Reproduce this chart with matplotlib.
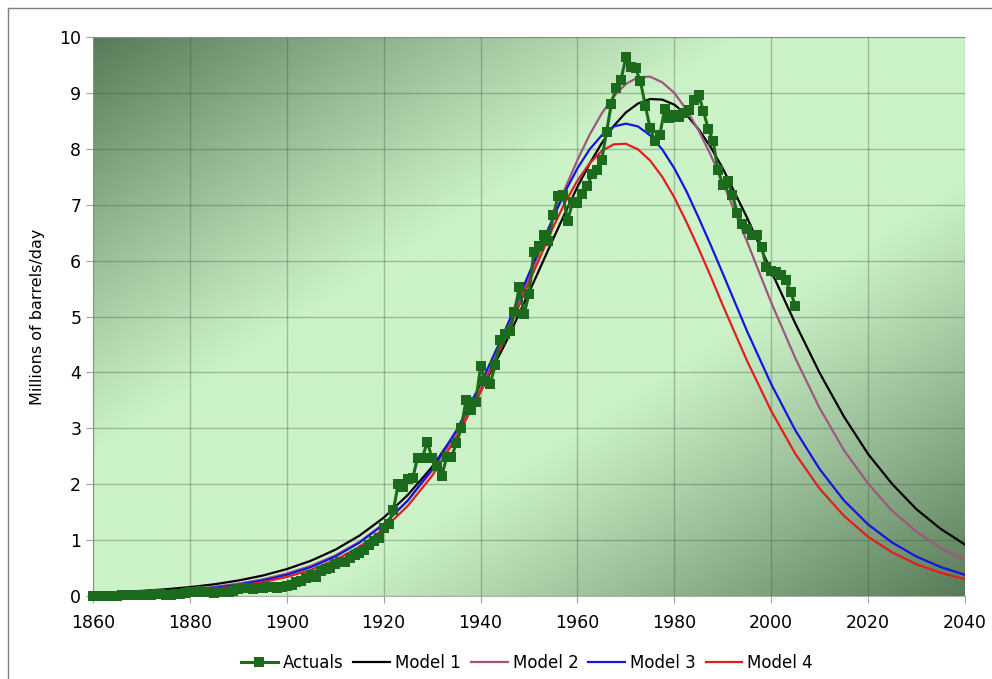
import numpy as np
import matplotlib
matplotlib.use("Agg")
from matplotlib import pyplot as plt
from matplotlib.lines import Line2D

# model years and values, millions of barrels/day (denser around the peak)
model_years = [1860, 1865, 1870, 1875, 1880, 1885, 1890, 1895, 1900, 1905,
               1910, 1915, 1920, 1925, 1930, 1935, 1940, 1945, 1950, 1955,
               1957.5, 1960, 1962.5, 1965, 1967.5, 1970, 1972.5, 1975, 1977.5,
               1980, 1982.5, 1985, 1987.5, 1990, 1995, 2000, 2005,
               2010, 2015, 2020, 2025, 2030, 2035, 2040]
model_1 = [0.052, 0.068, 0.091, 0.120, 0.159, 0.209, 0.277, 0.365, 0.481, 0.631,
           0.827, 1.08, 1.40, 1.81, 2.31, 2.93, 3.66, 4.50, 5.43, 6.39,
           6.86, 7.32, 7.73, 8.10, 8.41, 8.65, 8.81, 8.89, 8.88,
           8.79, 8.61, 8.35, 8.03, 7.65, 6.77, 5.81, 4.87,
           3.99, 3.21, 2.54, 2.00, 1.55, 1.20, 0.92]
model_2 = [0.036, 0.049, 0.066, 0.089, 0.121, 0.163, 0.221, 0.298, 0.402, 0.540,
           0.726, 0.968, 1.29, 1.71, 2.24, 2.90, 3.70, 4.64, 5.68, 6.77,
           7.30, 7.80, 8.25, 8.63, 8.94, 9.16, 9.28, 9.29, 9.19,
           9.00, 8.70, 8.33, 7.89, 7.40, 6.34, 5.25, 4.25,
           3.36, 2.61, 2.01, 1.52, 1.15, 0.86, 0.645]
model_3 = [0.030, 0.042, 0.057, 0.078, 0.108, 0.148, 0.203, 0.278, 0.379, 0.518,
           0.704, 0.954, 1.28, 1.71, 2.27, 2.96, 3.79, 4.74, 5.77, 6.77,
           7.24, 7.65, 7.99, 8.24, 8.40, 8.45, 8.40, 8.24, 7.99,
           7.65, 7.24, 6.77, 6.28, 5.77, 4.74, 3.79, 2.96,
           2.27, 1.71, 1.28, 0.954, 0.704, 0.518, 0.379]
model_4 = [0.025, 0.035, 0.048, 0.067, 0.093, 0.129, 0.178, 0.247, 0.341, 0.469,
           0.644, 0.881, 1.197, 1.615, 2.15, 2.83, 3.65, 4.60, 5.61, 6.60,
           7.05, 7.43, 7.74, 7.96, 8.08, 8.09, 7.99, 7.79, 7.50,
           7.13, 6.69, 6.22, 5.72, 5.20, 4.21, 3.31, 2.54,
           1.92, 1.435, 1.06, 0.778, 0.568, 0.413, 0.300]

# actual production 1860-2005, thousand barrels/day
actual_years = list(range(1860, 2006))
actuals_kbd = [
    1.4, 5.8, 8.4, 7.2, 5.8, 6.6, 9.8, 9.2, 9.9, 11.5,
    14.4, 14.4, 17.3, 27.1, 29.8, 24.8, 24.8, 36.8, 42.0, 54.6,
    71.8, 76.0, 83.3, 64.0, 66.4, 59.8, 76.5, 77.4, 75.9, 96.0,
    124.8, 148.9, 138.9, 132.3, 135.4, 145.8, 166.0, 165.5, 151.1, 155.0,
    174.3, 190.4, 243.1, 275.3, 320.4, 369.0, 346.9, 455.4, 489.6, 501.5,
    574.1, 603.1, 609.5, 680.6, 727.1, 768.8, 822.1, 917.4, 977.0, 1034.2,
    1210.6, 1294.3, 1530.0, 2003.0, 1950.0, 2091.0, 2112.0, 2473.0, 2474.0, 2760.0,
    2460.0, 2332.0, 2150.0, 2484.0, 2486.0, 2730.0, 3000.0, 3505.0, 3327.0, 3466.0,
    4107.0, 3842.0, 3798.0, 4125.0, 4584.0, 4695.0, 4749.0, 5088.0, 5520.0, 5046.0,
    5407.0, 6158.0, 6256.0, 6458.0, 6342.0, 6807.0, 7151.0, 7170.0, 6710.0, 7054.0,
    7035.0, 7183.0, 7332.0, 7542.0, 7614.0, 7804.0, 8295.0, 8810.0, 9096.0, 9238.0,
    9637.0, 9463.0, 9441.0, 9208.0, 8774.0, 8375.0, 8132.0, 8245.0, 8707.0, 8552.0,
    8597.0, 8572.0, 8649.0, 8688.0, 8879.0, 8971.0, 8680.0, 8349.0, 8140.0, 7613.0,
    7355.0, 7417.0, 7171.0, 6847.0, 6662.0, 6560.0, 6465.0, 6452.0, 6252.0, 5881.0,
    5822.0, 5801.0, 5744.0, 5649.0, 5441.0, 5184.0,
]
actuals = [v / 1000.0 for v in actuals_kbd]

x_ticks = list(range(1860, 2041, 20))
y_ticks = list(range(0, 11))

plt.rcParams['font.family'] = ['DejaVu Sans']

fig = plt.figure(figsize=(9.92, 6.79), dpi=100)
ax = fig.add_axes([93 / 992, 1 - 596 / 679, 872 / 992, 559 / 679])

# diagonal green gradient background
gx, gy = np.meshgrid(np.linspace(0, 1, 400), np.linspace(1, 0, 300))
t = np.clip((np.abs(gx - gy) - 0.25) / 0.75, 0, 1) ** 1.1
light = np.array([204, 242, 200]) / 255.0
dark = np.array([88, 122, 88]) / 255.0
bg = light[None, None, :] * (1 - t[..., None]) + dark[None, None, :] * t[..., None]
ax.imshow(bg, extent=[1860, 2040, 0, 10], aspect='auto', zorder=0, interpolation='bilinear')

ax.set_xlim(1860, 2040)
ax.set_ylim(0, 10)
ax.set_xticks(x_ticks)
ax.set_yticks(y_ticks)
ax.grid(True, color='#3f5a3f', alpha=0.35, linewidth=1.0, zorder=1)
ax.set_axisbelow(False)

ax.plot(model_years, model_1, color='black', lw=1.6, zorder=3, label='Model 1')
ax.plot(model_years, model_2, color='#a0567f', lw=1.6, zorder=3, label='Model 2')
ax.plot(model_years, model_3, color='#1515e0', lw=1.6, zorder=3, label='Model 3')
ax.plot(model_years, model_4, color='#e02020', lw=1.6, zorder=3, label='Model 4')
ax.plot(actual_years, actuals, color='#1c6b1c', lw=2.2, marker='s', markersize=7.2,
        markeredgewidth=0, zorder=4, clip_on=False, label='Actuals')

ax.spines['right'].set_visible(False)
for side in ['left', 'bottom', 'top']:
    ax.spines[side].set_color('#b0b0b0')
    ax.spines[side].set_linewidth(0.8)

ax.tick_params(axis='both', colors='#a0a0a0', labelcolor='black', labelsize=12.5,
               length=5, width=0.8, direction='out')
ax.tick_params(axis='x', pad=8)
ax.set_ylabel('Millions of barrels/day', fontsize=11.5, labelpad=10)

handles, labels = ax.get_legend_handles_labels()
order = [4, 0, 1, 2, 3]
fig.legend([handles[i] for i in order], [labels[i] for i in order],
           loc='center', bbox_to_anchor=(527 / 992, 1 - 663 / 679), ncol=5,
           frameon=False, fontsize=12, handlelength=2.2, handletextpad=0.3,
           columnspacing=0.6)

# outer frame lines (top and left)
fig.add_artist(Line2D([8 / 992, 1], [1 - 8 / 679, 1 - 8 / 679], transform=fig.transFigure,
                      color='#808080', lw=1.0))
fig.add_artist(Line2D([8 / 992, 8 / 992], [0, 1 - 8 / 679], transform=fig.transFigure,
                      color='#808080', lw=1.0))

fig.savefig('out.png', dpi=100)
